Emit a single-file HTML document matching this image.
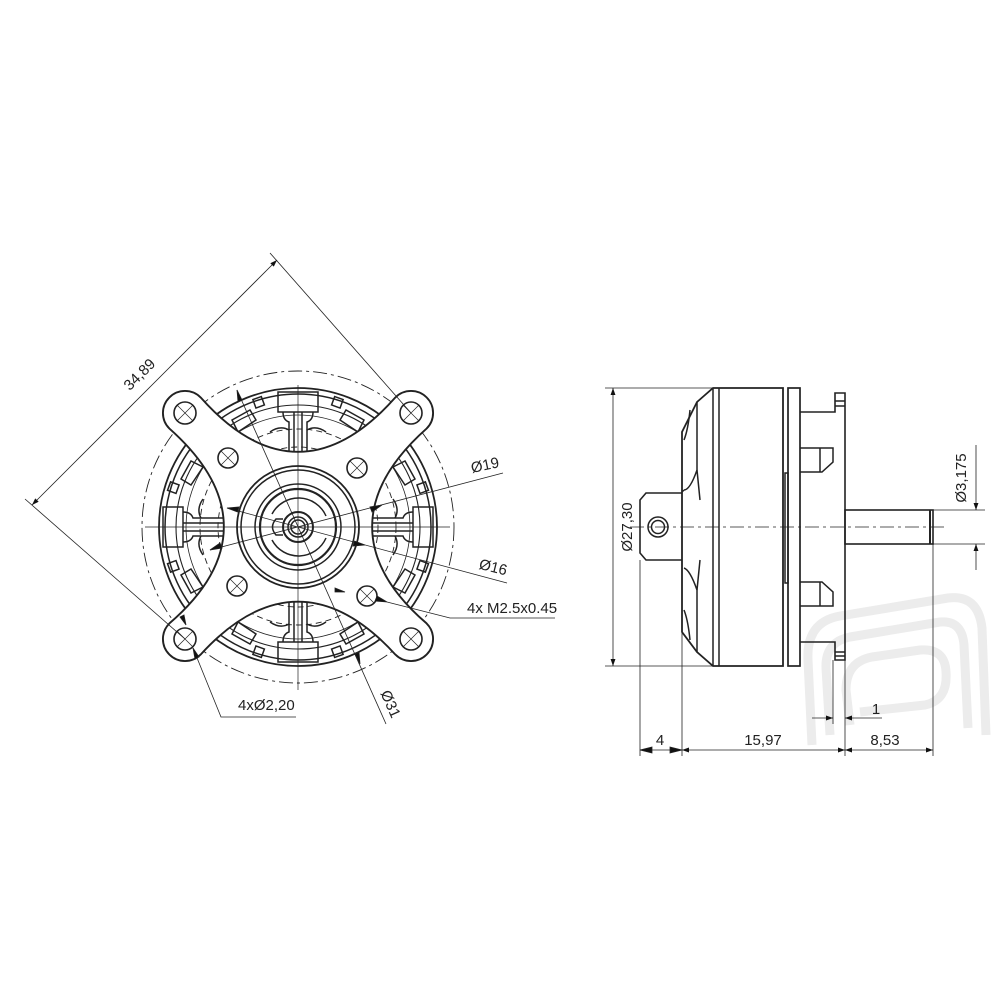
<!DOCTYPE html>
<html><head><meta charset="utf-8"><style>
html,body{margin:0;padding:0;background:#fff;width:1000px;height:1000px;overflow:hidden}
svg{display:block}
text{font-family:"Liberation Sans",sans-serif;font-size:15px;fill:#222}
</style></head><body>
<svg width="1000" height="1000" viewBox="0 0 1000 1000" xmlns="http://www.w3.org/2000/svg">
<defs>
<marker id="ar" viewBox="0 0 10 10" refX="10" refY="5" markerWidth="10" markerHeight="7" orient="auto-start-reverse" markerUnits="userSpaceOnUse"><path d="M0,1.5 L10,5 L0,8.5 Z" fill="#111"/></marker>
</defs>

<!-- watermark -->
<g fill="none" stroke="#ececec" stroke-width="9" stroke-linejoin="round">
<path d="M812,745 L808,660 Q806,622 840,616 L948,598 Q978,594 982,628 L986,735"/>
<path d="M830,735 L826,668 Q825,642 850,637 L940,622 Q962,620 964,645 L968,728"/>
<path d="M850,725 L846,690 Q846,662 872,657 L920,650 Q945,648 946,672 Q948,700 925,705 L860,712"/>
</g>

<g fill="none" stroke="#222" stroke-width="1.5">
<!-- FRONT VIEW -->
<circle cx="298" cy="527" r="156" stroke-width="0.9" stroke-dasharray="14 4 3 4"/>
<circle cx="298" cy="527" r="139" stroke-width="1.8"/>
<circle cx="298" cy="527" r="133"/>
<circle cx="298" cy="527" r="122" stroke-width="1.1"/>
<circle cx="298" cy="527" r="112" stroke-width="0.8"/>
<circle cx="298" cy="527" r="98" stroke-width="0.9" stroke-dasharray="6 4"/>
<circle cx="298" cy="527" r="80" stroke-width="0.9" stroke-dasharray="6 4"/>
<g id="tooth">
 <rect x="278" y="392" width="40" height="20"/>
 <path d="M283,412 Q283,420 289,422 L289,470 M313,412 Q313,420 307,422 L307,470"/>
 <path d="M270,432 Q280,425 289,430 M326,432 Q316,425 307,430"/>
 <line x1="294" y1="412" x2="294" y2="470"/><line x1="302" y1="412" x2="302" y2="470"/>
 <rect x="254" y="398" width="9" height="9" transform="rotate(-20 258 402)"/>
 <rect x="333" y="398" width="9" height="9" transform="rotate(20 338 402)"/>
 <path d="M232,420 L250,410 L256,420 L238,432 Z M364,420 L346,410 L340,420 L358,432 Z"/>
</g>
<use href="#tooth" transform="rotate(90 298 527)"/>
<use href="#tooth" transform="rotate(180 298 527)"/>
<use href="#tooth" transform="rotate(270 298 527)"/>
<!-- mounting plate -->
<path fill="#fff" stroke-width="1.9" d="M169.4,428.6 A22,22 0 1 1 200.6,397.4 C265,470 331,470 395.4,397.4 A22,22 0 1 1 426.6,428.6 C354,493 354,561 426.6,623.4 A22,22 0 1 1 395.4,654.6 C331,584 265,584 200.6,654.6 A22,22 0 1 1 169.4,623.4 C242,561 242,493 169.4,428.6 Z"/>
<circle cx="298" cy="527" r="61" stroke-width="1.8"/>
<circle cx="298" cy="527" r="57"/>
<circle cx="298" cy="527" r="43"/>
<circle cx="298" cy="527" r="38" stroke-width="2.2"/>
<path d="M272,514 A30,30 0 0 1 326,516 M272,540 A30,30 0 0 0 326,538" />
<circle cx="298" cy="527" r="15" stroke-width="2"/>
<circle cx="298" cy="527" r="10"/>
<circle cx="298" cy="527" r="7"/>
<path d="M283,519 L276,519 Q269,527 276,535 L283,535"/>
<!-- holes -->
<g stroke-width="1.6">
<circle cx="185" cy="413" r="11"/><circle cx="411" cy="413" r="11"/>
<circle cx="411" cy="639" r="11"/><circle cx="185" cy="639" r="11"/>
<circle cx="228" cy="458" r="10"/><circle cx="357" cy="468" r="10"/>
<circle cx="237" cy="586" r="10"/><circle cx="367" cy="596" r="10"/>
</g>
<g stroke-width="0.7">
<path d="M177,405 L193,421 M193,405 L177,421 M403,405 L419,421 M419,405 L403,421 M403,631 L419,647 M419,631 L403,647 M177,631 L193,647 M193,631 L177,647"/>
<path d="M221,451 L235,465 M235,451 L221,465 M350,461 L364,475 M364,461 L350,475 M230,579 L244,593 M244,579 L230,593 M360,589 L374,603 M374,589 L360,603"/>
</g>
<!-- centerlines -->
<g stroke-width="0.7">
<line x1="145" y1="527" x2="450" y2="527"/>
<line x1="298" y1="385" x2="298" y2="690"/>
</g>
<!-- dim 34,89 -->
<g stroke-width="0.8">
<line x1="411" y1="413" x2="270" y2="253"/>
<line x1="185" y1="639" x2="25" y2="499"/>
<line x1="32" y1="505" x2="277" y2="260" marker-start="url(#ar)" marker-end="url(#ar)"/>
<line x1="210" y1="550" x2="503" y2="473"/>
<path d="M210,550 l10,-7 l2,5 z M382,505 l-10,7 l-2,-5 z" fill="#111"/>
<line x1="227" y1="508" x2="507" y2="583"/>
<path d="M227,508 l12,-1 l-1.5,5 z M365,545 l-12,1 l1.5,-5 z" fill="#111"/>
<polyline points="387,602 450,618 555,618"/>
<path d="M387,602 l-10,-6 l-2,5 z" fill="#111"/>
<path d="M345,592 l-10,-4 l0,4 z" fill="#111"/>
<line x1="237" y1="390" x2="386" y2="724"/>
<path d="M237,390 l1,12 l4,-2 z M360,664 l-1,-12 l-4,2 z" fill="#111"/>
<polyline points="193,648 221,717 296,717"/>
<path d="M193,648 l2,11 l4,-2 z M186,625 l-2,-10 l-4,2 z" fill="#111"/>
</g>

<!-- SIDE VIEW -->
<path stroke-width="1.8" d="M713,388 L783,388 L783,666 L713,666 L697,652 L682,632 L682,432 L697,402 Z"/>
<line x1="713" y1="388" x2="713" y2="666"/>
<line x1="719" y1="388" x2="719" y2="666"/>
<path d="M697,402 L697,470 Q690,490 684,490 M697,652 L697,590 Q690,570 684,568 M690,410 Q688,430 684,440 M690,640 Q688,620 684,610"/>
<path d="M684,490 L682,492 M697,470 L700,500 M697,590 L700,560"/>
<rect x="785" y="473" width="3" height="110"/>
<rect x="788" y="388" width="12" height="278" stroke-width="1.7"/>
<path stroke-width="1.6" d="M800,412 L835,412 L835,393 L845,393 L845,660 L835,660 L835,642 L800,642"/>
<path d="M800,448 L833,448 L833,462 L822,472 L800,472 M820,448 L820,472"/>
<path d="M800,606 L833,606 L833,592 L822,582 L800,582 M820,582 L820,606"/>
<path d="M835,401 L845,401 M835,406 L845,406 M835,652 L845,652 M835,656 L845,656"/>
<path stroke-width="1.6" d="M682,493 L646,493 L640,500 L640,553 L646,560 L682,560"/>
<circle cx="658" cy="527" r="10"/>
<circle cx="658" cy="527" r="6.5"/>
<rect x="845" y="510" width="88" height="34" stroke-width="1.6"/>
<line x1="930" y1="510" x2="930" y2="544" stroke-width="2"/>
<line x1="630" y1="527" x2="945" y2="527" stroke-width="0.7" stroke-dasharray="14 4 3 4"/>

<g stroke-width="0.8">
<line x1="605" y1="388" x2="713" y2="388"/>
<line x1="605" y1="666" x2="713" y2="666"/>
<line x1="613" y1="388" x2="613" y2="666" marker-start="url(#ar)" marker-end="url(#ar)"/>
<line x1="640" y1="560" x2="640" y2="756"/>
<line x1="682" y1="632" x2="682" y2="756"/>
<line x1="833" y1="660" x2="833" y2="724"/>
<line x1="845" y1="660" x2="845" y2="756"/>
<line x1="933" y1="544" x2="933" y2="756"/>
<line x1="640" y1="750" x2="682" y2="750"/>
<path d="M640,750 l12,-3 l0,6 z M682,750 l-12,-3 l0,6 z" fill="#111"/>
<line x1="682" y1="750" x2="845" y2="750" marker-start="url(#ar)" marker-end="url(#ar)"/>
<line x1="845" y1="750" x2="933" y2="750" marker-start="url(#ar)" marker-end="url(#ar)"/>
<line x1="812" y1="718" x2="833" y2="718" marker-end="url(#ar)"/>
<line x1="845" y1="718" x2="882" y2="718" marker-start="url(#ar)"/>
<line x1="933" y1="510" x2="985" y2="510"/>
<line x1="933" y1="544" x2="985" y2="544"/>
<line x1="976" y1="445" x2="976" y2="510" marker-end="url(#ar)"/>
<line x1="976" y1="544" x2="976" y2="570" marker-start="url(#ar)"/>
</g>
</g>

<!-- labels -->
<text x="143" y="378" text-anchor="middle" transform="rotate(-45 143 378)">34,89</text>
<text x="486" y="470" text-anchor="middle" transform="rotate(-12 486 470)">Ø19</text>
<text x="492" y="572" text-anchor="middle" transform="rotate(14 492 572)">Ø16</text>
<text x="467" y="613">4x M2.5x0.45</text>
<text x="386" y="706" text-anchor="middle" transform="rotate(66 386 706)">Ø31</text>
<text x="238" y="710">4xØ2,20</text>
<text x="632" y="527" text-anchor="middle" transform="rotate(-90 632 527)">Ø27,30</text>
<text x="966" y="478" text-anchor="middle" transform="rotate(-90 966 478)">Ø3,175</text>
<text x="660" y="745" text-anchor="middle">4</text>
<text x="763" y="745" text-anchor="middle">15,97</text>
<text x="885" y="745" text-anchor="middle">8,53</text>
<text x="876" y="714" text-anchor="middle">1</text>
</svg>
</body></html>
